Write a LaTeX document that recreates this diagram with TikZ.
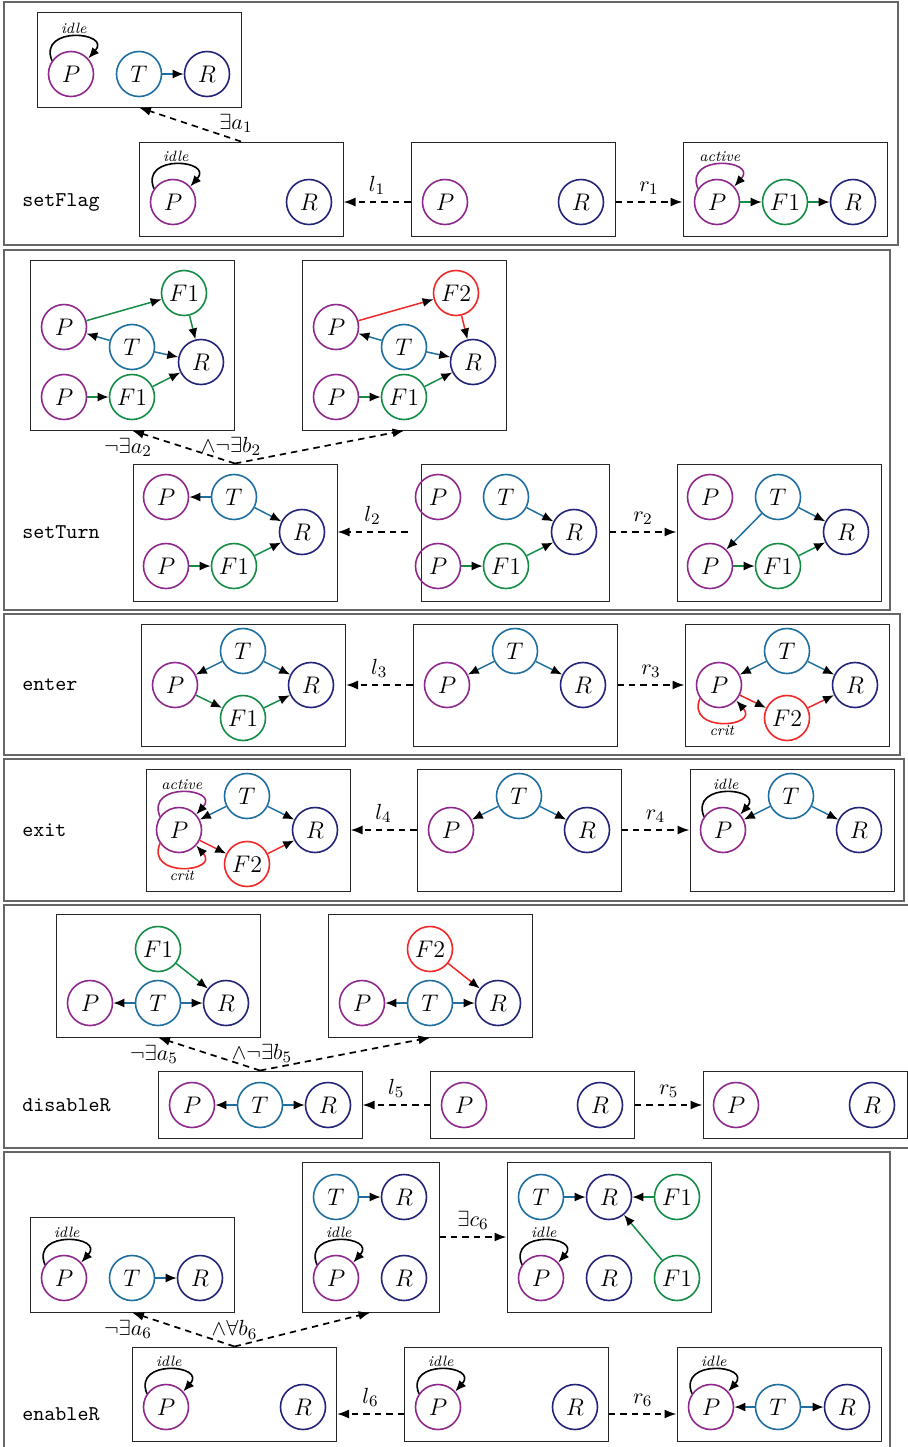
\documentclass[tikz,border=0pt]{standalone}
\usepackage{tikz}
\usepackage{amsmath,amssymb}
\usetikzlibrary{arrows.meta}
\definecolor{pcol}{RGB}{142,40,140}
\definecolor{tcol}{RGB}{30,110,160}
\definecolor{rcol}{RGB}{35,35,120}
\definecolor{fcol}{RGB}{20,140,70}
\definecolor{gcol}{RGB}{240,40,40}

\begin{document}
\begin{tikzpicture}[x=0.5pt,y=-0.5pt,
    st/.style={circle, line width=0.8pt, minimum size=22.5pt, inner sep=0pt, font=\fontsize{11.5}{13}\selectfont},
    pst/.style={st, draw=pcol},
    tst/.style={st, draw=tcol},
    rst/.style={st, draw=rcol},
    fst/.style={st, draw=fcol},
    gst/.style={st, draw=gcol},
    box/.style={draw=black!85, line width=0.5pt, inner sep=0pt, minimum width=102pt},
    panel/.style={draw=black!60, line width=0.8pt},
    tip/.style={-{Latex[length=5.5pt,width=4.5pt,color=black]}},
    tarr/.style={tip, draw=tcol, line width=0.75pt},
    farr/.style={tip, draw=fcol, line width=0.75pt},
    garr/.style={tip, draw=gcol, line width=0.75pt},
    idleloop/.style={tip, draw=black, line width=0.8pt},
    actloop/.style={tip, draw=pcol, line width=0.8pt},
    critloop/.style={tip, draw=gcol, line width=0.8pt},
    looplab/.style={font=\itshape\fontsize{7.5}{9}\selectfont, inner sep=1pt},
    ruletxt/.style={font=\ttfamily\fontsize{10.5}{12}\selectfont, anchor=west, inner sep=0pt},
    lab/.style={font=\fontsize{11}{13}\selectfont},
    rulearr/.style={dash pattern=on 3.2pt off 2.5pt, line width=0.85pt, -{Latex[length=6pt,width=4.5pt]}}
  ]
  \useasboundingbox (0,0) rectangle (908,1447);

  % ---- setFlag
  \draw[panel] (4,2) rectangle (898,245);
  \node[ruletxt] (n1) at (22,202) {setFlag};
  % NAC
  \node[box, minimum height=47.5pt] (a1) at (139,59.5) {};
  \node[pst] (a1P) at (71,74) {$P$};
  \node[tst] (a1T) at (139,74) {$T$};
  \node[rst] (a1R) at (207,74) {$R$};
  \draw[tarr] (a1T) -- (a1R);
  \draw[idleloop] (a1P.145) .. controls +(112:19pt) and +(48:18pt) .. (a1P.42) node[looplab, pos=0.5, above] {idle};
  % L, K, R
  \node[box, minimum height=47pt] (l1) at (241,189) {};
  \node[pst] (l1P) at (173,202) {$P$};
  \node[rst] (l1R) at (309,202) {$R$};
  \draw[idleloop] (l1P.145) .. controls +(112:19pt) and +(48:18pt) .. (l1P.42) node[looplab, pos=0.5, above] {idle};
  \node[box, minimum height=47pt] (k1) at (513,189) {};
  \node[pst] (k1P) at (445,202) {$P$};
  \node[rst] (k1R) at (581,202) {$R$};
  \node[box, minimum height=47pt] (r1) at (785,189) {};
  \node[pst] (r1P) at (717,202) {$P$};
  \node[fst] (r1F) at (785,202) {$F1$};
  \node[rst] (r1R) at (853,202) {$R$};
  \draw[farr] (r1P) -- (r1F);
  \draw[farr] (r1F) -- (r1R);
  \draw[actloop] (r1P.145) .. controls +(112:19pt) and +(48:18pt) .. (r1P.42) node[looplab, pos=0.5, above] {active};
  % rule arrows
  \draw[rulearr] (l1.north) -- (a1.south) node[lab, pos=0.05, above] {$\exists a_1$};
  \draw[rulearr] (k1.west |- n1) -- (l1.east |- n1) node[lab, midway, above] {$l_1$};
  \draw[rulearr] (k1.east |- n1) -- (r1.west |- n1) node[lab, midway, above] {$r_1$};

  % ---- setTurn
  \draw[panel] (4,250) rectangle (890,610);
  \node[ruletxt] (n2) at (22,532) {setTurn};
  % NACs
  \node[box, minimum height=85pt] (a2) at (132,345) {};
  \node[pst] (a2Pa) at (64,327) {$P$};
  \node[fst] (a2Fa) at (184,293) {$F1$};
  \node[tst] (a2T) at (132,347) {$T$};
  \node[rst] (a2R) at (201,362) {$R$};
  \node[pst] (a2Pb) at (64,397) {$P$};
  \node[fst] (a2Fb) at (132,397) {$F1$};
  \draw[farr] (a2Pa) -- (a2Fa);
  \draw[farr] (a2Fa) -- (a2R);
  \draw[tarr] (a2T) -- (a2Pa);
  \draw[tarr] (a2T) -- (a2R);
  \draw[farr] (a2Pb) -- (a2Fb);
  \draw[farr] (a2Fb) -- (a2R);
  \node[box, minimum height=85pt] (b2) at (404.5,345) {};
  \node[pst] (b2Pa) at (336,327) {$P$};
  \node[gst] (b2G) at (456,293) {$F2$};
  \node[tst] (b2T) at (404,347) {$T$};
  \node[rst] (b2R) at (473,362) {$R$};
  \node[pst] (b2Pb) at (336,397) {$P$};
  \node[fst] (b2Fb) at (404,397) {$F1$};
  \draw[garr] (b2Pa) -- (b2G);
  \draw[garr] (b2G) -- (b2R);
  \draw[tarr] (b2T) -- (b2Pa);
  \draw[tarr] (b2T) -- (b2R);
  \draw[farr] (b2Pb) -- (b2Fb);
  \draw[farr] (b2Fb) -- (b2R);
  % L, K, R
  \node[box, minimum height=68.5pt] (l2) at (235,532.5) {};
  \node[pst] (l2Pa) at (166,497) {$P$};
  \node[tst] (l2T) at (234,497) {$T$};
  \node[rst] (l2R) at (302,532) {$R$};
  \node[pst] (l2Pb) at (166,566) {$P$};
  \node[fst] (l2F) at (234,566) {$F1$};
  \draw[tarr] (l2T) -- (l2Pa);
  \draw[tarr] (l2T) -- (l2R);
  \draw[farr] (l2Pb) -- (l2F);
  \draw[farr] (l2F) -- (l2R);
  \node[box, minimum width=94pt, minimum height=68.5pt] (k2) at (515,532.5) {};
  \node[pst] (k2Pa) at (438,497) {$P$};
  \node[tst] (k2T) at (506,497) {$T$};
  \node[rst] (k2R) at (574,532) {$R$};
  \node[pst] (k2Pb) at (438,566) {$P$};
  \node[fst] (k2F) at (506,566) {$F1$};
  \draw[tarr] (k2T) -- (k2R);
  \draw[farr] (k2Pb) -- (k2F);
  \draw[farr] (k2F) -- (k2R);
  \node[box, minimum height=68.5pt] (r2) at (779,532.5) {};
  \node[pst] (r2Pa) at (710,497) {$P$};
  \node[tst] (r2T) at (778,497) {$T$};
  \node[rst] (r2R) at (846,532) {$R$};
  \node[pst] (r2Pb) at (710,566) {$P$};
  \node[fst] (r2F) at (778,566) {$F1$};
  \draw[tarr] (r2T) -- (r2Pb);
  \draw[tarr] (r2T) -- (r2R);
  \draw[farr] (r2Pb) -- (r2F);
  \draw[farr] (r2F) -- (r2R);
  % rule arrows
  \draw[rulearr] (l2.north) -- (a2.south) node[lab, pos=1, below, xshift=-2pt] {$\neg\exists a_2$};
  \draw[rulearr] (l2.north) -- (b2.south) node[lab, pos=0, above, xshift=-2pt] {$\wedge\neg\exists b_2$};
  \draw[rulearr] ([xshift=-6.5pt]k2.west |- n2) -- (l2.east |- n2) node[lab, midway, above] {$l_2$};
  \draw[rulearr] (k2.east |- n2) -- (r2.west |- n2) node[lab, midway, above] {$r_2$};

  % ---- enter
  \draw[panel] (4,614) rectangle (900,755);
  \node[ruletxt] (n3) at (22,685) {enter};
  \node[box, minimum height=61pt] (l3) at (243.5,685) {};
  \node[pst] (l3P) at (175,685) {$P$};
  \node[tst] (l3T) at (243,651) {$T$};
  \node[rst] (l3R) at (311,685) {$R$};
  \node[fst] (l3F) at (243,718) {$F1$};
  \draw[tarr] (l3T) -- (l3P);
  \draw[tarr] (l3T) -- (l3R);
  \draw[farr] (l3P) -- (l3F);
  \draw[farr] (l3F) -- (l3R);
  \node[box, minimum height=61pt] (k3) at (515,685) {};
  \node[pst] (k3P) at (447,685) {$P$};
  \node[tst] (k3T) at (515,651) {$T$};
  \node[rst] (k3R) at (583,685) {$R$};
  \draw[tarr] (k3T) -- (k3P);
  \draw[tarr] (k3T) -- (k3R);
  \node[box, minimum height=61pt] (r3) at (787,685) {};
  \node[pst] (r3P) at (719,685) {$P$};
  \node[tst] (r3T) at (787,651) {$T$};
  \node[rst] (r3R) at (855,685) {$R$};
  \node[gst] (r3G) at (787,718) {$F2$};
  \draw[tarr] (r3T) -- (r3P);
  \draw[tarr] (r3T) -- (r3R);
  \draw[garr] (r3P) -- (r3G);
  \draw[garr] (r3G) -- (r3R);
  \draw[critloop] (r3P.215) .. controls +(248:19pt) and +(312:18pt) .. (r3P.318) node[looplab, pos=0.5, below] {crit};
  \draw[rulearr] (k3.west |- n3) -- (l3.east |- n3) node[lab, midway, above] {$l_3$};
  \draw[rulearr] (k3.east |- n3) -- (r3.west |- n3) node[lab, midway, above] {$r_3$};

  % ---- exit
  \draw[panel] (4,759) rectangle (904,901);
  \node[ruletxt] (n4) at (22,830) {exit};
  \node[box, minimum height=61pt] (l4) at (248,830) {};
  \node[pst] (l4P) at (179,830) {$P$};
  \node[tst] (l4T) at (247,796) {$T$};
  \node[rst] (l4R) at (315,830) {$R$};
  \node[gst] (l4G) at (247,864) {$F2$};
  \draw[tarr] (l4T) -- (l4P);
  \draw[tarr] (l4T) -- (l4R);
  \draw[garr] (l4P) -- (l4G);
  \draw[garr] (l4G) -- (l4R);
  \draw[actloop] (l4P.145) .. controls +(112:19pt) and +(48:18pt) .. (l4P.42) node[looplab, pos=0.5, above] {active};
  \draw[critloop] (l4P.215) .. controls +(248:19pt) and +(312:18pt) .. (l4P.318) node[looplab, pos=0.5, below] {crit};
  \node[box, minimum height=61pt] (k4) at (519,830) {};
  \node[pst] (k4P) at (451,830) {$P$};
  \node[tst] (k4T) at (519,796) {$T$};
  \node[rst] (k4R) at (587,830) {$R$};
  \draw[tarr] (k4T) -- (k4P);
  \draw[tarr] (k4T) -- (k4R);
  \node[box, minimum height=61pt] (r4) at (792,830) {};
  \node[pst] (r4P) at (723,830) {$P$};
  \node[tst] (r4T) at (791,796) {$T$};
  \node[rst] (r4R) at (859,830) {$R$};
  \draw[tarr] (r4T) -- (r4P);
  \draw[tarr] (r4T) -- (r4R);
  \draw[idleloop] (r4P.145) .. controls +(112:19pt) and +(48:18pt) .. (r4P.42) node[looplab, pos=0.5, above] {idle};
  \draw[rulearr] (k4.west |- n4) -- (l4.east |- n4) node[lab, midway, above] {$l_4$};
  \draw[rulearr] (k4.east |- n4) -- (r4.west |- n4) node[lab, midway, above] {$r_4$};

  % ---- disableR
  \draw[panel] (4,905) rectangle (914,1148);
  \node[ruletxt] (n5) at (22,1105) {disableR};
  \node[box, minimum height=61.5pt] (a5) at (158,975.5) {};
  \node[fst] (a5F) at (158,949) {$F1$};
  \node[pst] (a5P) at (90,1003) {$P$};
  \node[tst] (a5T) at (158,1003) {$T$};
  \node[rst] (a5R) at (226,1003) {$R$};
  \draw[tarr] (a5T) -- (a5P);
  \draw[tarr] (a5T) -- (a5R);
  \draw[farr] (a5F) -- (a5R);
  \node[box, minimum height=61.5pt] (b5) at (430.5,975.5) {};
  \node[gst] (b5G) at (430,949) {$F2$};
  \node[pst] (b5P) at (362,1003) {$P$};
  \node[tst] (b5T) at (430,1003) {$T$};
  \node[rst] (b5R) at (498,1003) {$R$};
  \draw[tarr] (b5T) -- (b5P);
  \draw[tarr] (b5T) -- (b5R);
  \draw[garr] (b5G) -- (b5R);
  \node[box, minimum height=33.5pt] (l5) at (260,1104.5) {};
  \node[pst] (l5P) at (192,1105) {$P$};
  \node[tst] (l5T) at (260,1105) {$T$};
  \node[rst] (l5R) at (328,1105) {$R$};
  \draw[tarr] (l5T) -- (l5P);
  \draw[tarr] (l5T) -- (l5R);
  \node[box, minimum height=33.5pt] (k5) at (532.5,1104.5) {};
  \node[pst] (k5P) at (464,1105) {$P$};
  \node[rst] (k5R) at (600,1105) {$R$};
  \node[box, minimum height=33.5pt] (r5) at (805,1104.5) {};
  \node[pst] (r5P) at (736,1105) {$P$};
  \node[rst] (r5R) at (872,1105) {$R$};
  \draw[rulearr] (l5.north) -- (a5.south) node[lab, pos=1, below, xshift=-2pt] {$\neg\exists a_5$};
  \draw[rulearr] (l5.north) -- (b5.south) node[lab, pos=0, above, xshift=1pt] {$\wedge\neg\exists b_5$};
  \draw[rulearr] (k5.west |- n5) -- (l5.east |- n5) node[lab, midway, above] {$l_5$};
  \draw[rulearr] (k5.east |- n5) -- (r5.west |- n5) node[lab, midway, above] {$r_5$};

  % ---- enableR
  \draw[panel] (4,1152) rectangle (890,1460);
  \node[ruletxt] (n6) at (22,1414) {enableR};
  \node[box, minimum height=47.5pt] (a6) at (132,1264.5) {};
  \node[pst] (a6P) at (64,1278) {$P$};
  \node[tst] (a6T) at (132,1278) {$T$};
  \node[rst] (a6R) at (200,1278) {$R$};
  \draw[tarr] (a6T) -- (a6R);
  \draw[idleloop] (a6P.145) .. controls +(112:19pt) and +(48:18pt) .. (a6P.42) node[looplab, pos=0.5, above] {idle};
  \node[box, minimum width=68.5pt, minimum height=75pt] (b6) at (370.5,1237) {};
  \node[tst] (b6T) at (336,1197) {$T$};
  \node[rst] (b6Ra) at (404,1197) {$R$};
  \node[pst] (b6P) at (336,1278) {$P$};
  \node[rst] (b6Rb) at (404,1278) {$R$};
  \draw[tarr] (b6T) -- (b6Ra);
  \draw[idleloop] (b6P.145) .. controls +(112:19pt) and +(48:18pt) .. (b6P.42) node[looplab, pos=0.5, above] {idle};
  \node[box, minimum height=75pt] (c6) at (609,1237) {};
  \node[tst] (c6T) at (541,1197) {$T$};
  \node[rst] (c6Ra) at (609,1197) {$R$};
  \node[fst] (c6Fa) at (677,1197) {$F1$};
  \node[pst] (c6P) at (541,1278) {$P$};
  \node[rst] (c6Rb) at (609,1278) {$R$};
  \node[fst] (c6Fb) at (677,1278) {$F1$};
  \draw[tarr] (c6T) -- (c6Ra);
  \draw[farr] (c6Fa) -- (c6Ra);
  \draw[farr] (c6Fb) -- (c6Ra);
  \draw[idleloop] (c6P.145) .. controls +(112:19pt) and +(48:18pt) .. (c6P.42) node[looplab, pos=0.5, above] {idle};
  \node[box, minimum height=47pt] (l6) at (234.5,1394) {};
  \node[pst] (l6P) at (166,1407) {$P$};
  \node[rst] (l6R) at (303,1407) {$R$};
  \draw[idleloop] (l6P.145) .. controls +(112:19pt) and +(48:18pt) .. (l6P.42) node[looplab, pos=0.5, above] {idle};
  \node[box, minimum height=47pt] (k6) at (506.5,1394) {};
  \node[pst] (k6P) at (438,1407) {$P$};
  \node[rst] (k6R) at (575,1407) {$R$};
  \draw[idleloop] (k6P.145) .. controls +(112:19pt) and +(48:18pt) .. (k6P.42) node[looplab, pos=0.5, above] {idle};
  \node[box, minimum height=47pt] (r6) at (779,1394) {};
  \node[pst] (r6P) at (711,1407) {$P$};
  \node[tst] (r6T) at (778,1407) {$T$};
  \node[rst] (r6R) at (847,1407) {$R$};
  \draw[tarr] (r6T) -- (r6P);
  \draw[tarr] (r6T) -- (r6R);
  \draw[idleloop] (r6P.145) .. controls +(112:19pt) and +(48:18pt) .. (r6P.42) node[looplab, pos=0.5, above] {idle};
  \draw[rulearr] (b6.east) -- (c6.west) node[lab, midway, above] {$\exists c_6$};
  \draw[rulearr] (l6.north) -- (a6.south) node[lab, pos=1, below, xshift=-2pt] {$\neg\exists a_6$};
  \draw[rulearr] (l6.north) -- (b6.south) node[lab, pos=0, above] {$\wedge\forall b_6$};
  \draw[rulearr] (k6.west |- n6) -- (l6.east |- n6) node[lab, midway, above] {$l_6$};
  \draw[rulearr] (k6.east |- n6) -- (r6.west |- n6) node[lab, midway, above] {$r_6$};
\end{tikzpicture}
\end{document}
